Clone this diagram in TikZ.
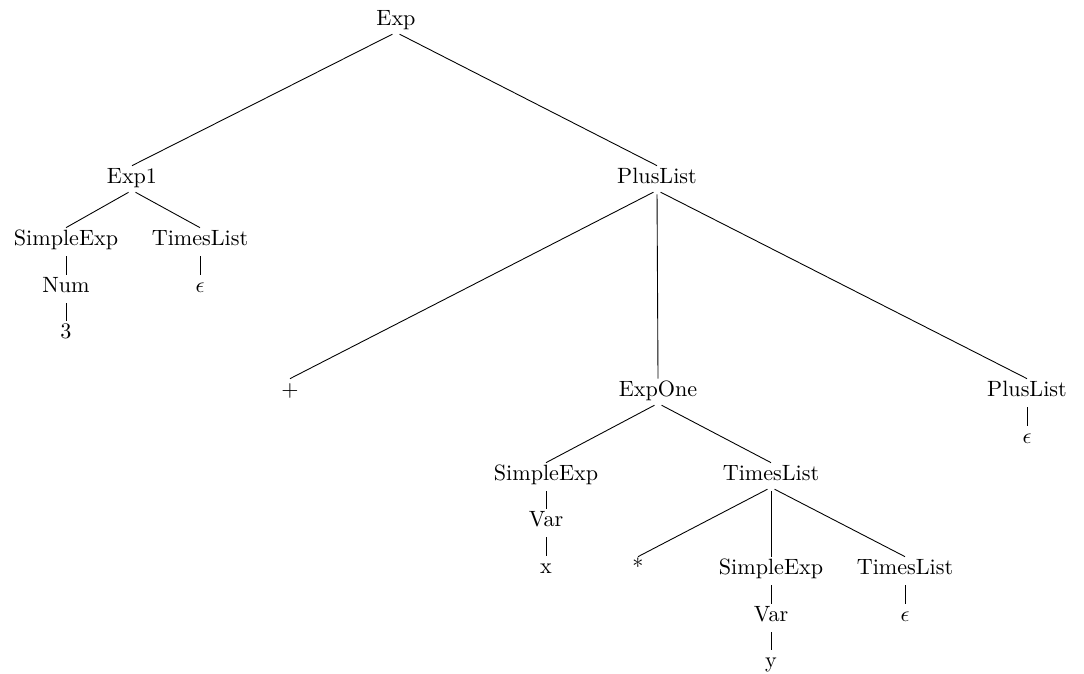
\documentclass[tikz,border=0pt]{standalone}
\begin{document}
\begin{tikzpicture}[x=0.452pt,y=-0.452pt,
  tn/.style={inner sep=1pt,text height=6.83pt,text depth=1.94pt},
  br/.style={shorten <=1.8pt}]
\useasboundingbox (0,0) rectangle (1084,673);
% nodes
\node[tn] (exp) at (396,20) {Exp};
\node[tn] (exp1) at (132,178) {Exp1};
\node[tn] (pl1) at (657,178) {PlusList};
\node[tn] (se1) at (66,240) {SimpleExp};
\node[tn] (tl1) at (200,240) {TimesList};
\node[tn] (num) at (66,287) {Num};
\node[tn] (eps1) at (200,287) {$\epsilon$};
\node[tn] (three) at (66,333) {3};
\node[tn] (plus) at (290,391) {+};
\node[tn] (expone) at (658,391) {ExpOne};
\node[tn] (pl2) at (1027,391) {PlusList};
\node[tn] (eps2) at (1027,438) {$\epsilon$};
\node[tn] (se2) at (546,475) {SimpleExp};
\node[tn] (tl2) at (771,475) {TimesList};
\node[tn] (var1) at (546,521) {Var};
\node[tn] (x) at (546,568) {x};
\node[tn] (star) at (638,569) {*};
\node[tn] (se3) at (771,569) {SimpleExp};
\node[tn] (tl3) at (905,569) {TimesList};
\node[tn] (var2) at (771,616) {Var};
\node[tn] (eps3) at (905,616) {$\epsilon$};
\node[tn] (y) at (771,662) {y};
% edges
\draw[br] (exp.south) -- (exp1.north);
\draw[br] (exp.south) -- (pl1.north);
\draw[br] (exp1.south) -- (se1.north);
\draw[br] (exp1.south) -- (tl1.north);
\draw[br] (se1.south) -- (num.north);
\draw[br] (num.south) -- (three.north);
\draw[br] (tl1.south) -- (eps1.north);
\draw[br] (pl1.south) -- (plus.north);
\draw[br] (pl1.south) -- (expone.north);
\draw[br] (pl1.south) -- (pl2.north);
\draw[br] (pl2.south) -- (eps2.north);
\draw[br] (expone.south) -- (se2.north);
\draw[br] (expone.south) -- (tl2.north);
\draw[br] (se2.south) -- (var1.north);
\draw[br] (var1.south) -- (x.north);
\draw[br] (tl2.south) -- (star.north);
\draw[br] (tl2.south) -- (se3.north);
\draw[br] (tl2.south) -- (tl3.north);
\draw[br] (se3.south) -- (var2.north);
\draw[br] (var2.south) -- (y.north);
\draw[br] (tl3.south) -- (eps3.north);
\end{tikzpicture}
\end{document}
